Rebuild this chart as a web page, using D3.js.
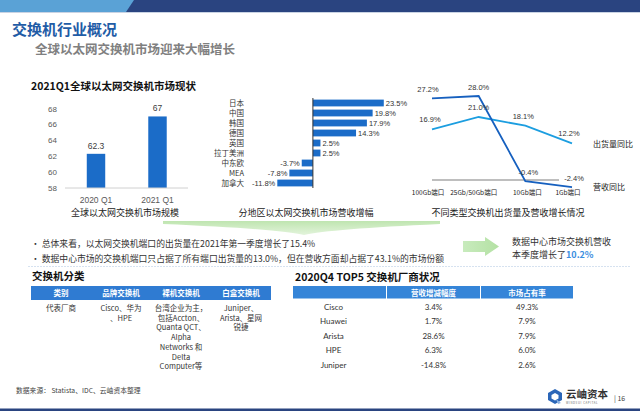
<!DOCTYPE html>
<html>
<head>
<meta charset="utf-8">
<script src="https://cdn.jsdelivr.net/npm/d3@7"></script>
<style>
  html, body { margin: 0; padding: 0; background: #fff; }
  svg { display: block; font-family: "Noto Sans CJK SC", "Noto Sans", sans-serif; }
</style>
</head>
<body>
<svg id="slide" width="640" height="411"></svg>
<script>
// --- 数据 ---
var marketYears = ['2020 Q1', '2021 Q1'];
var marketValues = [62.3, 67];
var marketTicks = [58, 60, 62, 64, 66, 68];

var regions = ['日本', '中国', '韩国', '德国', '英国', '拉丁美洲', '中东欧', 'MEA', '加拿大'];
var regionGrowth = [23.5, 19.8, 17.9, 14.3, 2.5, 2.5, -3.7, -7.8, -11.8];

var portTypes = ['100Gb端口', '25Gb/50Gb端口', '10Gb端口', '1Gb端口'];
var shipmentYoY = [16.9, 21.0, 18.1, 12.2];
var revenueYoY = [27.2, 28.0, -0.4, -2.4];

var classHeaders = ['类别', '品牌交换机', '裸机交换机', '白盒交换机'];
var classCells = [
    ['代表厂商'],
    ['Cisco、华为', '、HPE'],
    ['台湾企业为主，', '包括Accton、', 'Quanta QCT、', 'Alpha', 'Networks 和', 'Delta', 'Computer等'],
    ['Juniper、', 'Arista、星网', '锐捷']
];

var vendorHeaders = ['', '营收增减幅度', '市场占有率'];
var vendors = ['Cisco', 'Huawei', 'Arista', 'HPE', 'Juniper'];
var vendorRevenue = [3.4, 1.7, 28.6, 6.3, -14.8];
var vendorShare = [49.3, 7.9, 7.9, 6.0, 2.6];

var svg = d3.select('#slide');
var navy = '#2a4480';
var barBlue = '#1b6cc8';

// --- 顶部色条 ---
svg.append('rect').attr('x', 0).attr('y', 0).attr('width', 640).attr('height', 12).attr('fill', navy);
svg.append('path').attr('d', 'M0,0 L134,0 L126,12 L0,12 Z').attr('fill', '#5aa2d6');
svg.append('line').attr('x1', 0).attr('x2', 640).attr('y1', 12.5).attr('y2', 12.5)
    .attr('stroke', '#c9d3e3').attr('stroke-width', 1);

svg.append('text').attr('x', 12).attr('y', 35).text('交换机行业概况')
    .attr('font-size', 15).attr('font-weight', 'bold').attr('fill', '#1f5ca6');
svg.append('text').attr('x', 35).attr('y', 54).text('全球以太网交换机市场迎来大幅增长')
    .attr('font-size', 12.5).attr('font-weight', 'bold').attr('fill', '#808080');

// --- 左：市场规模柱状图 ---
svg.append('text').attr('x', 31).attr('y', 90).text('2021Q1全球以太网交换机市场现状')
    .attr('font-size', 10.5).attr('font-weight', 'bold').attr('fill', '#111');

var xm = d3.scaleBand().domain(marketYears).range([65.25, 188.25]).paddingInner(0.7).paddingOuter(0.35);
var ym = d3.scaleLinear().domain([58, 68]).range([188, 108.5]);

var gm = svg.append('g');
gm.selectAll('text.tick').data(marketTicks).enter().append('text')
    .attr('x', 57).attr('y', function (d) { return ym(d) + 3; })
    .attr('text-anchor', 'end').attr('font-size', 8).attr('fill', '#595959')
    .attr('font-family', 'Liberation Sans, Arial, sans-serif')
    .text(function (d) { return d; });
gm.selectAll('rect').data(marketValues).enter().append('rect')
    .attr('x', function (d, i) { return xm(marketYears[i]); })
    .attr('y', function (d) { return ym(d); })
    .attr('width', xm.bandwidth())
    .attr('height', function (d) { return ym(58) - ym(d); })
    .attr('fill', barBlue);
gm.selectAll('text.val').data(marketValues).enter().append('text')
    .attr('x', function (d, i) { return xm(marketYears[i]) + xm.bandwidth() / 2; })
    .attr('y', function (d) { return ym(d) - 5; })
    .attr('text-anchor', 'middle').attr('font-size', 8.5).attr('fill', '#404040')
    .attr('font-family', 'Liberation Sans, Arial, sans-serif')
    .text(function (d) { return d; });
gm.append('line').attr('x1', 65).attr('x2', 188).attr('y1', ym(58)).attr('y2', ym(58))
    .attr('stroke', '#d0d0d0').attr('stroke-width', 1);
var xAxisM = d3.axisBottom(xm).tickSize(0).tickPadding(9);
gm.append('g').attr('transform', 'translate(0,' + ym(58) + ')').call(xAxisM)
    .call(function (g) { g.select('.domain').remove(); })
    .selectAll('text').attr('font-size', 8.5).attr('fill', '#595959')
    .attr('font-family', 'Liberation Sans, Arial, sans-serif');

svg.append('text').attr('x', 125).attr('y', 216).attr('text-anchor', 'middle')
    .text('全球以太网交换机市场规模').attr('font-size', 9).attr('fill', '#222');

// --- 中：分地区营收增幅条形图 ---
var yr = d3.scaleBand().domain(regions).range([98, 188]).paddingInner(0.32).paddingOuter(0.16);
var xr = d3.scaleLinear().domain([-12, 24]).range([276.7, 385.3]);

var gr = svg.append('g');
gr.selectAll('text.cat').data(regions).enter().append('text')
    .attr('x', 244).attr('y', function (d) { return yr(d) + yr.bandwidth() / 2 + 2.8; })
    .attr('text-anchor', 'end').attr('font-size', 7.5).attr('fill', '#333')
    .text(function (d) { return d; });
gr.selectAll('rect').data(regionGrowth).enter().append('rect')
    .attr('x', function (d) { return Math.min(xr(0), xr(d)); })
    .attr('y', function (d, i) { return yr(regions[i]); })
    .attr('width', function (d) { return Math.abs(xr(d) - xr(0)); })
    .attr('height', yr.bandwidth())
    .attr('fill', barBlue);
gr.selectAll('text.val').data(regionGrowth).enter().append('text')
    .attr('x', function (d) { return d >= 0 ? xr(d) + 2 : xr(d) - 2; })
    .attr('y', function (d, i) { return yr(regions[i]) + yr.bandwidth() / 2 + 2.8; })
    .attr('text-anchor', function (d) { return d >= 0 ? 'start' : 'end'; })
    .attr('font-size', 7.5).attr('fill', '#333')
    .attr('font-family', 'Liberation Sans, Arial, sans-serif')
    .text(function (d) { return d.toFixed(1) + '%'; });
gr.append('line').attr('x1', xr(0)).attr('x2', xr(0)).attr('y1', 98).attr('y2', 188)
    .attr('stroke', '#333').attr('stroke-width', 1);

svg.append('text').attr('x', 306).attr('y', 216).attr('text-anchor', 'middle')
    .text('分地区以太网交换机市场营收增幅').attr('font-size', 9).attr('fill', '#222');

// --- 右：不同端口出货量/营收同比折线 ---
var xp = d3.scalePoint().domain(portTypes).range([432, 572]);
var yp = d3.scaleLinear().domain([0, 28]).range([180, 96]);

var gp = svg.append('g');
gp.append('line').attr('x1', 432).attr('x2', 559).attr('y1', yp(0)).attr('y2', yp(0))
    .attr('stroke', '#7f7f7f').attr('stroke-width', 1.2);

var line = d3.line()
    .x(function (d, i) { return xp(portTypes[i]); })
    .y(function (d) { return yp(d); });

gp.append('path').datum(shipmentYoY).attr('d', line)
    .attr('fill', 'none').attr('stroke', '#1c9ee0').attr('stroke-width', 1.8);
gp.append('path').datum(revenueYoY).attr('d', line)
    .attr('fill', 'none').attr('stroke', '#1660bf').attr('stroke-width', 1.8);

var shipLabelDx = [-2, 0, -2, -3];
var revLabelDx = [-4, 0, 3, 2];
gp.selectAll('text.ship').data(shipmentYoY).enter().append('text')
    .attr('x', function (d, i) { return xp(portTypes[i]) + shipLabelDx[i]; })
    .attr('y', function (d) { return yp(d) - 7; })
    .attr('text-anchor', 'middle').attr('font-size', 7.5).attr('fill', '#333')
    .attr('font-family', 'Liberation Sans, Arial, sans-serif')
    .text(function (d) { return d.toFixed(1) + '%'; });
gp.selectAll('text.rev').data(revenueYoY).enter().append('text')
    .attr('x', function (d, i) { return xp(portTypes[i]) + revLabelDx[i]; })
    .attr('y', function (d) { return yp(d) - 6; })
    .attr('text-anchor', 'middle').attr('font-size', 7.5).attr('fill', '#333')
    .attr('font-family', 'Liberation Sans, Arial, sans-serif')
    .text(function (d) { return d.toFixed(1) + '%'; });

var portLabelDx = [-4, -5, 2, -4];
gp.selectAll('text.port').data(portTypes).enter().append('text')
    .attr('x', function (d, i) { return xp(d) + portLabelDx[i]; })
    .attr('y', 195)
    .attr('text-anchor', 'middle').attr('font-size', 6.5).attr('fill', '#222')
    .text(function (d) { return d; });

svg.append('text').attr('x', 593).attr('y', 147).text('出货量同比').attr('font-size', 8).attr('fill', '#222');
svg.append('text').attr('x', 593).attr('y', 190).text('营收同比').attr('font-size', 8).attr('fill', '#222');

svg.append('text').attr('x', 508).attr('y', 216).attr('text-anchor', 'middle')
    .text('不同类型交换机出货量及营收增长情况').attr('font-size', 9).attr('fill', '#222');

// --- 绿色下箭头 / 右箭头 ---
var defs = svg.append('defs');
var gg = defs.append('linearGradient').attr('id', 'gdown').attr('x1', 0).attr('x2', 0).attr('y1', 0).attr('y2', 1);
gg.append('stop').attr('offset', '0%').attr('stop-color', '#bfe5b0');
gg.append('stop').attr('offset', '100%').attr('stop-color', '#e3f4dc');
svg.append('path').attr('d', 'M163,221 L440,221 L440,224 Q330,229 304,235 Q280,229 163,224 Z')
    .attr('fill', 'url(#gdown)');

var gr2 = defs.append('linearGradient').attr('id', 'gright').attr('x1', 0).attr('x2', 1).attr('y1', 0).attr('y2', 0);
gr2.append('stop').attr('offset', '0%').attr('stop-color', '#c8ebbd');
gr2.append('stop').attr('offset', '100%').attr('stop-color', '#b4e1a4');
svg.append('path').attr('d', 'M463,241 L485,241 L485,237 L499,246.5 L485,256 L485,252 L463,252 Z')
    .attr('fill', 'url(#gright)');

// --- 要点 ---
svg.append('text').attr('x', 31).attr('y', 247).attr('font-size', 8.8).attr('fill', '#333')
    .text('• 总体来看，以太网交换机端口的出货量在2021年第一季度增长了15.4%');
svg.append('text').attr('x', 31).attr('y', 262).attr('font-size', 8.8).attr('fill', '#333')
    .text('• 数据中心市场的交换机端口只占据了所有端口出货量的13.0%，但在营收方面却占据了43.1%的市场份额');
svg.append('text').attr('x', 512).attr('y', 245).attr('font-size', 9).attr('fill', '#333')
    .text('数据中心市场交换机营收');
var t2 = svg.append('text').attr('x', 512).attr('y', 258).attr('font-size', 9).attr('fill', '#333');
t2.append('tspan').text('本季度增长了');
t2.append('tspan').text('10.2%').attr('fill', '#3a8ee0').attr('font-weight', 'bold');

svg.append('line').attr('x1', 28).attr('x2', 630).attr('y1', 266.5).attr('y2', 266.5)
    .attr('stroke', '#d6e2f0').attr('stroke-width', 1).attr('stroke-dasharray', '2,1');

// --- 交换机分类表 ---
svg.append('text').attr('x', 32).attr('y', 280).text('交换机分类')
    .attr('font-size', 10.5).attr('font-weight', 'bold').attr('fill', '#111');
var xc = d3.scaleBand().domain(d3.range(classHeaders.length)).range([31, 271]);
svg.append('rect').attr('x', 31).attr('y', 286).attr('width', 240).attr('height', 14).attr('fill', '#2f7bd2');
svg.selectAll('text.ch').data(classHeaders).enter().append('text')
    .attr('x', function (d, i) { return xc(i) + xc.bandwidth() / 2; })
    .attr('y', 296).attr('text-anchor', 'middle')
    .attr('font-size', 7.5).attr('font-weight', 'bold').attr('fill', '#fff')
    .text(function (d) { return d; });
classCells.forEach(function (lines, c) {
    svg.selectAll('text.cc' + c).data(lines).enter().append('text')
        .attr('x', xc(c) + xc.bandwidth() / 2)
        .attr('y', function (d, i) { return 311 + i * 9.7; })
        .attr('text-anchor', 'middle').attr('font-size', 7.5).attr('fill', '#333')
        .text(function (d) { return d; });
});

svg.append('text').attr('x', 16).attr('y', 393).attr('font-size', 6.8).attr('fill', '#444')
    .text('数据来源： Statista、IDC、云岫资本整理');

// --- TOP5 厂商表 ---
svg.append('text').attr('x', 295).attr('y', 281).text('2020Q4 TOP5 交换机厂商状况')
    .attr('font-size', 10.5).attr('font-weight', 'bold').attr('fill', '#111');
var colX = [293, 387, 481];
var colW = [93, 93, 92];
svg.selectAll('rect.vh').data(vendorHeaders).enter().append('rect')
    .attr('x', function (d, i) { return colX[i]; }).attr('y', 286)
    .attr('width', function (d, i) { return colW[i]; }).attr('height', 12.5)
    .attr('fill', '#3585d8');
svg.selectAll('text.vh').data(vendorHeaders).enter().append('text')
    .attr('x', function (d, i) { return colX[i] + colW[i] / 2; })
    .attr('y', 295.5).attr('text-anchor', 'middle')
    .attr('font-size', 7.5).attr('font-weight', 'bold').attr('fill', '#fff')
    .text(function (d) { return d; });
var yv = d3.scalePoint().domain(vendors).range([307, 364.5]);
var vendorCols = [
    vendors,
    vendorRevenue.map(function (d) { return d.toFixed(1) + '%'; }),
    vendorShare.map(function (d) { return d.toFixed(1) + '%'; })
];
vendorCols.forEach(function (col, c) {
    svg.selectAll('text.vc' + c).data(col).enter().append('text')
        .attr('x', colX[c] + colW[c] / 2 - (c === 0 ? 6 : 0))
        .attr('y', function (d, i) { return yv(vendors[i]) + 3; })
        .attr('text-anchor', 'middle').attr('font-size', 8).attr('fill', '#333')
        .attr('font-family', 'Lato, "Noto Sans", sans-serif')
        .text(function (d) { return d; });
});

// --- 标志与页码 ---
var logo = svg.append('g').attr('transform', 'translate(548,389)');
logo.append('path').attr('d', 'M7,0 L14,4 L14,11 L7,15 L0,11 L0,4 Z').attr('fill', '#2b66b8');
logo.append('path').attr('d', 'M7,4 L10.5,6 L10.5,9.5 L7,11.5 L3.5,9.5 L3.5,6 Z').attr('fill', '#fff');
logo.append('path').attr('d', 'M8,10 L13,14 L10,15 Z').attr('fill', '#8db3e3');
svg.append('text').attr('x', 566).attr('y', 398).text('云岫资本')
    .attr('font-size', 10.5).attr('font-weight', 'bold').attr('fill', '#333');
svg.append('text').attr('x', 566).attr('y', 403.5).text('WINDSUI CAPITAL')
    .attr('font-size', 2.8).attr('fill', '#666').attr('letter-spacing', 0.6);
svg.append('text').attr('x', 614).attr('y', 401).text('| 16')
    .attr('font-size', 7).attr('fill', '#444');

svg.append('rect').attr('x', 0).attr('y', 408.5).attr('width', 640).attr('height', 2.5).attr('fill', navy);
</script>
</body>
</html>
